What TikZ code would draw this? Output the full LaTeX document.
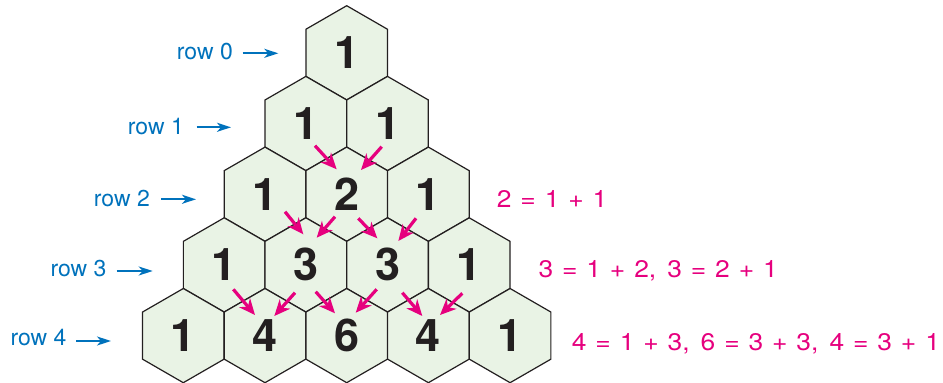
\documentclass[tikz,border=0pt]{standalone}
\usepackage{fontspec}
\setmainfont{TeX Gyre Heros}
\newfontfamily\eqnfont[FakeStretch=1.1]{TeX Gyre Heros}
\usetikzlibrary{arrows.meta,calc}
\definecolor{hexfill}{RGB}{233,243,229}
\definecolor{hexline}{RGB}{35,31,32}
\definecolor{pinkc}{RGB}{230,0,126}
\definecolor{bluec}{RGB}{0,114,188}
\newcommand\hexR{47.1}
\newcommand\opsp{\hspace{8.9pt}}
\newcommand\cmsp{\hspace{11pt}}
\newcommand\pcell[4]{%
  \draw[hexcell] (#2,#3) +(90:\hexR) -- +(150:\hexR) -- +(210:\hexR) -- +(270:\hexR) -- +(330:\hexR) -- +(30:\hexR) -- cycle;
  \node[num] (#1) at (#2,#3) {#4};}
\begin{document}
\begin{tikzpicture}[x=1pt,y=-1pt,
  num/.style={font=\fontsize{45}{45}\selectfont\bfseries, text=hexline, inner sep=0pt},
  hexcell/.style={draw=hexline, fill=hexfill, line width=1.2pt, line join=miter},
  rowlbl/.style={font=\fontsize{23}{23}\selectfont, text=bluec, inner sep=0pt, anchor=base east},
  blueArr/.style={draw=bluec, line width=2pt, -{Stealth[length=14pt,width=9pt,inset=4pt]}},
  pinkArr/.style={draw=pinkc, line width=3.2pt, -{Stealth[length=16pt,width=14pt,inset=5pt]}},
  eqn/.style={font=\eqnfont\fontsize{24}{24}\selectfont, text=pinkc, inner sep=0pt, anchor=base west}]
\useasboundingbox (0,0) rectangle (943,383);
% cells
\pcell{c00}{346.7}{52.8}{1}
\pcell{c10}{305.85}{123.5}{1}
\pcell{c11}{387.55}{123.5}{1}
\pcell{c20}{265}{194.2}{1}
\pcell{c21}{346.7}{194.2}{2}
\pcell{c22}{428.4}{194.2}{1}
\pcell{c30}{224.15}{264.9}{1}
\pcell{c31}{305.85}{264.9}{3}
\pcell{c32}{387.55}{264.9}{3}
\pcell{c33}{469.25}{264.9}{1}
\pcell{c40}{183.3}{335.6}{1}
\pcell{c41}{265}{335.6}{4}
\pcell{c42}{346.7}{335.6}{6}
\pcell{c43}{428.4}{335.6}{4}
\pcell{c44}{510.1}{335.6}{1}
% pink arrows
\draw[pinkArr] ([shift={(-31.7,-48.5)}]c21.center) -- ([shift={(-10,-24.9)}]c21.center);
\draw[pinkArr] ([shift={(35,-47.5)}]c21.center) -- ([shift={(14.3,-24.2)}]c21.center);
\draw[pinkArr] ([shift={(-20.85,-53.2)}]c31.center) -- ([shift={(-2.55,-30.6)}]c31.center);
\draw[pinkArr] ([shift={(29.15,-48.2)}]c31.center) -- ([shift={(10.85,-27.2)}]c31.center);
\draw[pinkArr] ([shift={(-29.25,-46.6)}]c32.center) -- ([shift={(-10.25,-26.6)}]c32.center);
\draw[pinkArr] ([shift={(28.45,-46.6)}]c32.center) -- ([shift={(10.75,-23.9)}]c32.center);
\draw[pinkArr] ([shift={(-31.7,-46.3)}]c41.center) -- ([shift={(-10,-20.6)}]c41.center);
\draw[pinkArr] ([shift={(30,-42.9)}]c41.center) -- ([shift={(9.3,-19.6)}]c41.center);
\draw[pinkArr] ([shift={(-31,-43.9)}]c42.center) -- ([shift={(-11.7,-22.3)}]c42.center);
\draw[pinkArr] ([shift={(30,-46.3)}]c42.center) -- ([shift={(9,-22.9)}]c42.center);
\draw[pinkArr] ([shift={(-26.1,-42.9)}]c43.center) -- ([shift={(-6.1,-19.6)}]c43.center);
\draw[pinkArr] ([shift={(33.9,-42.3)}]c43.center) -- ([shift={(11.6,-20.6)}]c43.center);
% row labels
\node[rowlbl] (l0) at (233,59.3) {row 0};
\node[rowlbl] (l1) at (184,134) {row 1};
\node[rowlbl] (l2) at (150,206) {row 2};
\node[rowlbl] (l3) at (106.7,276) {row 3};
\node[rowlbl] (l4) at (66.7,345.7) {row 4};
\coordinate (t0) at (278.3,53.3);
\coordinate (t1) at (231,127.3);
\coordinate (t2) at (196,199.3);
\coordinate (t3) at (152.7,271);
\coordinate (t4) at (111,341);
\draw[blueArr] ([xshift=9.7pt]l0.base east |- t0) -- (t0);
\draw[blueArr] ([xshift=12.7pt]l1.base east |- t1) -- (t1);
\draw[blueArr] ([xshift=11pt]l2.base east |- t2) -- (t2);
\draw[blueArr] ([xshift=10pt]l3.base east |- t3) -- (t3);
\draw[blueArr] ([xshift=9.3pt]l4.base east |- t4) -- (t4);
% equations
\node[eqn] (e2) at (496.7,207.3) {2\opsp=\opsp1\opsp+\opsp1};
\node[eqn] (e3) at (538.3,277.3) {3\opsp=\opsp1\opsp+\opsp2,\cmsp3\opsp=\opsp2\opsp+\opsp1};
\node[eqn] (e4) at (571.7,350) {4\opsp=\opsp1\opsp+\opsp3,\cmsp6\opsp=\opsp3\opsp+\opsp3,\cmsp4\opsp=\opsp3\opsp+\opsp1};
\end{tikzpicture}
\end{document}
